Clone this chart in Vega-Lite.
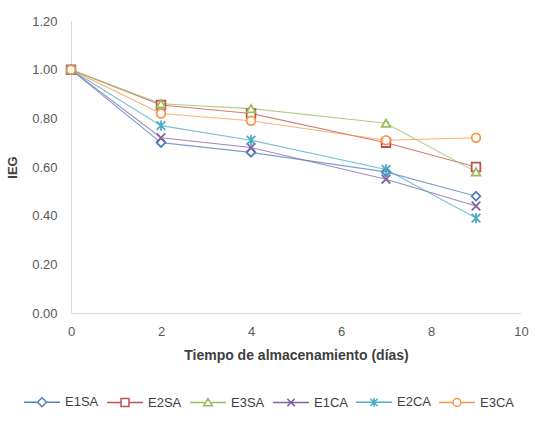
{
  "$schema": "https://vega.github.io/schema/vega-lite/v6.json",
  "width": 450,
  "height": 292,
  "autosize": "none",
  "padding": {"left": 71, "top": 21, "right": 18, "bottom": 109},
  "background": "white",
  "config": {
    "view": {"stroke": null},
    "font": "Liberation Sans",
    "axis": {"labelFont": "Liberation Sans", "titleFont": "Liberation Sans", "labelColor": "#595959", "titleColor": "#404040", "domainColor": "#D9D9D9", "grid": false, "ticks": false, "labelFontSize": 13, "labelFlush": false},
    "legend": {"title": null, "orient": "none", "direction": "horizontal", "legendX": -48, "legendY": 362, "symbolSize": 1300, "symbolStrokeWidth": 1.5, "symbolFillColor": "white", "symbolOpacity": 1, "labelFontSize": 13, "labelColor": "#404040", "labelFont": "Liberation Sans", "labelOffset": 4, "columnPadding": 4}
  },
  "data": {"values": [
    {"serie": "E1SA", "dia": 0, "ieg": 1.0}, {"serie": "E1SA", "dia": 2, "ieg": 0.70}, {"serie": "E1SA", "dia": 4, "ieg": 0.66}, {"serie": "E1SA", "dia": 7, "ieg": 0.58}, {"serie": "E1SA", "dia": 9, "ieg": 0.48},
    {"serie": "E2SA", "dia": 0, "ieg": 1.0}, {"serie": "E2SA", "dia": 2, "ieg": 0.855}, {"serie": "E2SA", "dia": 4, "ieg": 0.82}, {"serie": "E2SA", "dia": 7, "ieg": 0.70}, {"serie": "E2SA", "dia": 9, "ieg": 0.60},
    {"serie": "E3SA", "dia": 0, "ieg": 1.0}, {"serie": "E3SA", "dia": 2, "ieg": 0.86}, {"serie": "E3SA", "dia": 4, "ieg": 0.84}, {"serie": "E3SA", "dia": 7, "ieg": 0.78}, {"serie": "E3SA", "dia": 9, "ieg": 0.58},
    {"serie": "E1CA", "dia": 0, "ieg": 1.0}, {"serie": "E1CA", "dia": 2, "ieg": 0.72}, {"serie": "E1CA", "dia": 4, "ieg": 0.68}, {"serie": "E1CA", "dia": 7, "ieg": 0.55}, {"serie": "E1CA", "dia": 9, "ieg": 0.44},
    {"serie": "E2CA", "dia": 0, "ieg": 1.0}, {"serie": "E2CA", "dia": 2, "ieg": 0.77}, {"serie": "E2CA", "dia": 4, "ieg": 0.71}, {"serie": "E2CA", "dia": 7, "ieg": 0.59}, {"serie": "E2CA", "dia": 9, "ieg": 0.39},
    {"serie": "E3CA", "dia": 0, "ieg": 1.0}, {"serie": "E3CA", "dia": 2, "ieg": 0.82}, {"serie": "E3CA", "dia": 4, "ieg": 0.79}, {"serie": "E3CA", "dia": 7, "ieg": 0.71}, {"serie": "E3CA", "dia": 9, "ieg": 0.72}
  ]},
  "encoding": {
    "x": {"field": "dia", "type": "quantitative", "scale": {"domain": [0, 10]}, "axis": {"values": [0, 2, 4, 6, 8, 10], "title": "Tiempo de almacenamiento (días)", "titleFontSize": 14, "titleFontWeight": "bold", "labelPadding": 12, "titlePadding": 10}},
    "y": {"field": "ieg", "type": "quantitative", "scale": {"domain": [0, 1.2]}, "axis": {"values": [0, 0.2, 0.4, 0.6, 0.8, 1.0, 1.2], "format": ".2f", "title": "IEG", "titleFontSize": 13, "titleFontWeight": "bold", "labelPadding": 14, "titlePadding": 12}},
    "color": {"field": "serie", "type": "nominal", "scale": {"domain": ["E1SA", "E2SA", "E3SA", "E1CA", "E2CA", "E3CA"], "range": ["#4F81BD", "#C0504D", "#9BBB59", "#8064A2", "#4BACC6", "#F79646"]}}
  },
  "layer": [
    {"transform": [{"filter": "datum.dia < 0"}],
     "mark": {"type": "point", "filled": false, "fill": "white", "fillOpacity": 1, "size": 75, "strokeWidth": 1.5, "opacity": 1},
     "encoding": {"shape": {"field": "serie", "type": "nominal", "scale": {"domain": ["E1SA", "E2SA", "E3SA", "E1CA", "E2CA", "E3CA"], "range": ["M-1,0H-0.25M0.25,0H1M0,-0.25L0.25,0L0,0.25L-0.25,0Z", "M-1,0H-0.22M0.22,0H1M-0.22,-0.22H0.22V0.22H-0.22Z", "M-1,0H-0.2M0.2,0H1M0,-0.22L0.24,0.18L-0.24,0.18Z", "M-1,0H1M-0.2,-0.2L0.2,0.2M-0.2,0.2L0.2,-0.2", "M-1,0H1M-0.2,-0.2L0.2,0.2M-0.2,0.2L0.2,-0.2M0,-0.24V0.24", "M-1,0H-0.22M0.22,0H1M-0.22,0A0.22,0.22,0,1,0,0.22,0A0.22,0.22,0,1,0,-0.22,0"]}}}},
    {"mark": {"type": "line", "strokeWidth": 1.1, "opacity": 0.75}, "encoding": {"detail": {"field": "serie"}}},
    {"mark": {"type": "point", "filled": false, "fill": "white", "fillOpacity": 1, "size": 75, "strokeWidth": 1.8, "opacity": 1,
      "shape": {"expr": "datum.serie == 'E1SA' ? 'diamond' : datum.serie == 'E2SA' ? 'square' : datum.serie == 'E3SA' ? 'triangle-up' : datum.serie == 'E1CA' ? 'M-1,-1L1,1M-1,1L1,-1' : datum.serie == 'E2CA' ? 'M-1,-1L1,1M-1,1L1,-1M0,-1.2V1.2' : 'circle'"}}}
  ]
}
